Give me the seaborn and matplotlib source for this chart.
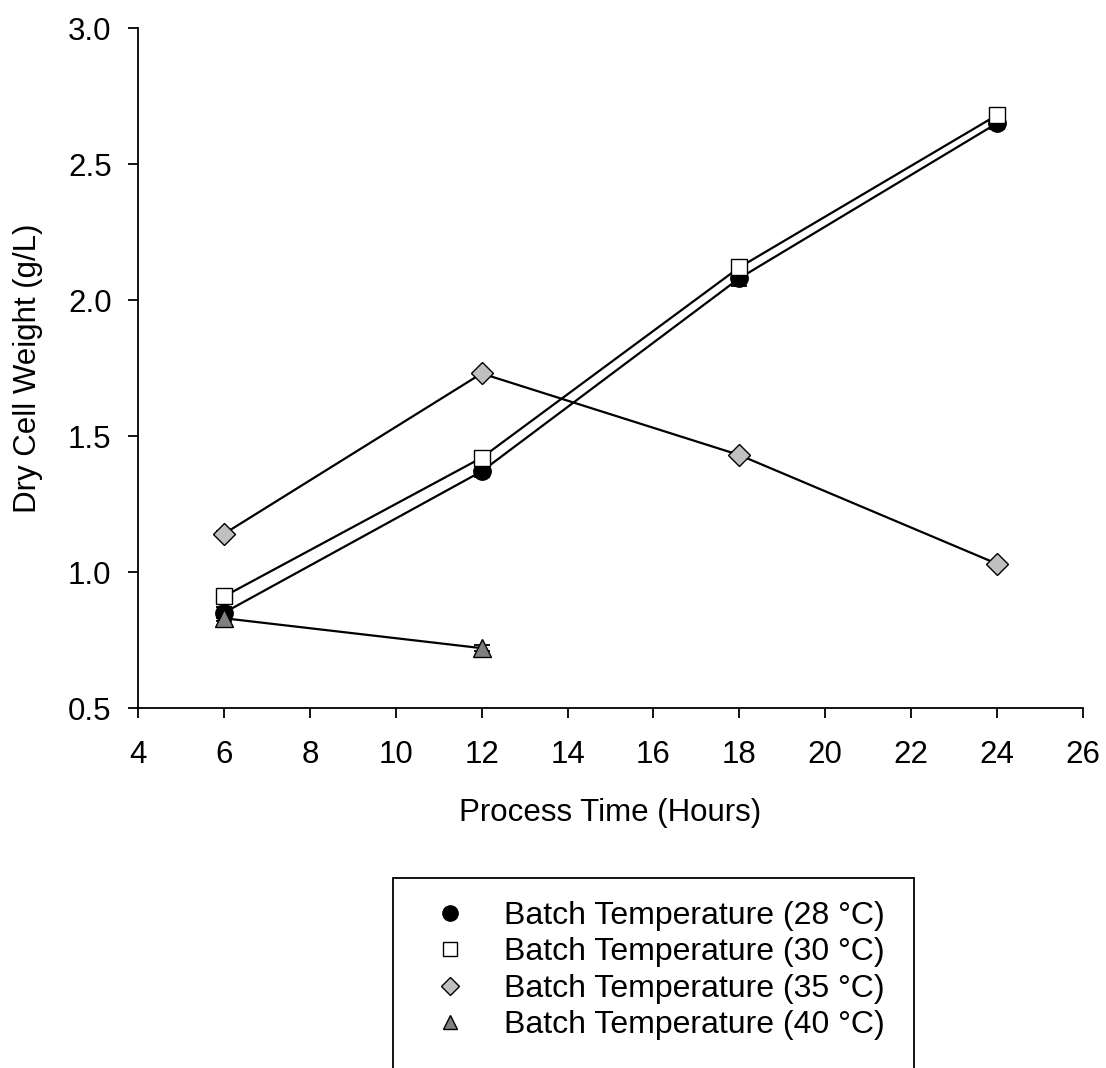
import numpy as np
import pandas as pd
import matplotlib
matplotlib.use("Agg")
import matplotlib.pyplot as plt
import seaborn as sns
from matplotlib.lines import Line2D
from matplotlib.patches import Rectangle

time_h = [6, 12, 18, 24]
dcw_28 = [0.85, 1.37, 2.08, 2.65]
err_28 = [0.02, 0.02, 0.03, 0.02]
dcw_30 = [0.91, 1.42, 2.12, 2.68]
err_30 = [0.02, 0.02, 0.02, 0.02]
dcw_35 = [1.14, 1.73, 1.43, 1.03]
err_35 = [0.01, 0.01, 0.01, 0.01]
time_40 = [6, 12]
dcw_40 = [0.83, 0.72]
err_40 = [0.01, 0.01]
labels = ["Batch Temperature (28 °C)", "Batch Temperature (30 °C)",
          "Batch Temperature (35 °C)", "Batch Temperature (40 °C)"]
x_ticks = [4, 6, 8, 10, 12, 14, 16, 18, 20, 22, 24, 26]
y_ticks = [0.5, 1.0, 1.5, 2.0, 2.5, 3.0]

sns.set_style("ticks")
plt.rcParams['font.family'] = ['Liberation Sans', 'DejaVu Sans']
plt.rcParams['text.color'] = 'black'
plt.rcParams['axes.labelcolor'] = 'black'

FS = 22.5
LFS = 23
fig = plt.figure(figsize=(11.06, 10.68), dpi=100)
ax = fig.add_axes([138/1106, 1-708/1068, (1083-138)/1106, (708-28)/1068])

series = [
    (time_h, dcw_28, err_28, "o", "black", 12.5, 11),
    (time_h, dcw_30, err_30, "s", "white", 12, 9.5),
    (time_h, dcw_35, err_35, "D", "#c0c0c0", 11.5, 9.5),
    (time_40, dcw_40, err_40, "^", "#808080", 13, 10.5),
]
for xs, ys, es, mk, fc, ms, lms in series:
    ax.errorbar(xs, ys, yerr=es, fmt="none", ecolor="black", elinewidth=1.3,
                capsize=6, capthick=1.3, zorder=2)
for xs, ys, es, mk, fc, ms, lms in series:
    df = pd.DataFrame({"t": xs, "y": ys})
    sns.lineplot(data=df, x="t", y="y", ax=ax, color="black", linewidth=1.6,
                 marker=mk, markersize=ms, markerfacecolor=fc,
                 markeredgecolor="black", markeredgewidth=1.0, zorder=3)

ax.set_xlim(4, 26)
ax.set_ylim(0.5, 3.0)
ax.set_xticks(x_ticks)
ax.set_yticks(y_ticks)
ax.set_yticklabels([f"{v:.1f}" for v in y_ticks])
ax.tick_params(axis="both", direction="out", length=7, width=1.3, labelsize=FS,
               color="black", labelcolor="black")
ax.tick_params(axis="x", pad=16)
ax.tick_params(axis="y", pad=12)
for s in ["left", "bottom"]:
    ax.spines[s].set_color("black")
    ax.spines[s].set_linewidth(1.3)
sns.despine(ax=ax)
ax.set_xlabel("Process Time (Hours)", fontsize=FS, labelpad=20)
ax.set_ylabel("Dry Cell Weight (g/L)", fontsize=FS, labelpad=18)

handles = [Line2D([], [], linestyle="none", marker=mk, markersize=lms,
                  markerfacecolor=fc, markeredgecolor="black", markeredgewidth=1.0)
           for _, _, _, mk, fc, ms, lms in series]
leg = fig.legend(handles, labels, loc="upper left",
                 bbox_to_anchor=(434/1106, 1-901/1068), fontsize=LFS,
                 frameon=False, handlelength=1.0, handletextpad=1.2,
                 borderpad=0, labelspacing=0.2, borderaxespad=0)
fig.patches.append(Rectangle((393/1106, -0.05), (914-393)/1106, 0.05 + 1-878/1068,
                             transform=fig.transFigure, fill=False,
                             edgecolor="black", linewidth=1.3))

fig.savefig("out.png", dpi=100)
